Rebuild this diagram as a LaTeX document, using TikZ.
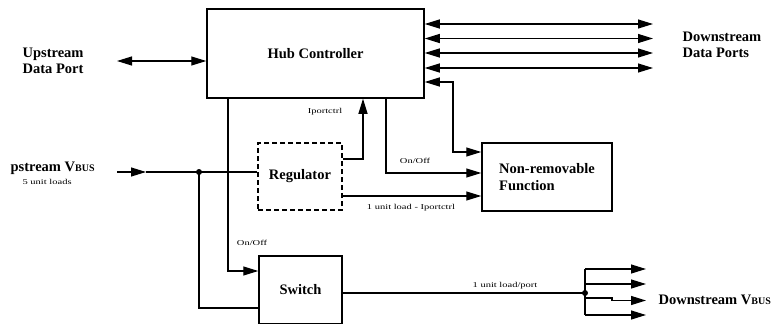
\documentclass[tikz,border=0pt]{standalone}
\usepackage{fontspec}
\setmainfont{Liberation Serif}
\newfontfamily\widefont{Liberation Serif}[FakeStretch=1.4]
\usetikzlibrary{arrows.meta}

\begin{document}
\begin{tikzpicture}[x=1pt, y=-1pt,
        >={Triangle[length=15pt,width=9pt]},
        line width=1.2pt,
        block/.style={draw, rectangle, line width=1.5pt, inner sep=0pt},
        biglabel/.style={font=\fontsize{14.5}{16.5}\selectfont\bfseries, align=left, inner sep=0pt},
        tinylabel/.style={font=\fontsize{7.5}{9}\selectfont\widefont, inner sep=0pt}]
    \useasboundingbox (0,0) rectangle (777,324);

    % blocks
    \node (hub) [block, minimum width=217pt, minimum height=89pt, font=\fontsize{14.5}{16.5}\selectfont\bfseries] at (315.5,53.5) {Hub Controller};
    \node (reg) [block, dashed, dash pattern=on 5pt off 3pt, minimum width=84pt, minimum height=67pt, font=\fontsize{14.5}{16.5}\selectfont\bfseries] at (300,176.5) {Regulator};
    \node (nrf) [block, minimum width=130pt, minimum height=68pt, align=left, font=\fontsize{14.5}{16.5}\selectfont\bfseries] at (547,177) {Non-removable\\Function};
    \node (sw) [block, minimum width=83pt, minimum height=68pt, font=\fontsize{14.5}{16.5}\selectfont\bfseries] at (300.5,290) {Switch\hspace{10pt}};

    % outside labels
    \node (upport) [biglabel, anchor=west] at (22,61) {Upstream\\Data Port};
    \node (dnport) [biglabel, anchor=west] at (682,45) {Downstream\\Data Ports};
    \node (upvbus) [biglabel, anchor=west] at (10,168) {pstream V{\fontsize{10}{10}\selectfont BUS}};
    \node (loads) [tinylabel, anchor=west] at (22,182) {5 unit loads};
    \node (dnvbus) [biglabel, anchor=west] at (658,300) {Downstream V{\fontsize{10}{10}\selectfont BUS}};

    % data ports
    \coordinate (upin) at (117,61);
    \draw[<->] (upin) -- (hub.west |- upin);
    \foreach \i/\y in {1/24,2/38.5,3/53,4/68}{
        \coordinate (dp\i) at (653,\y);
        \draw[<->] (hub.east |- dp\i) -- (dp\i);
    }
    \coordinate (tap) at (453,82);
    \draw[<->] (hub.east |- tap) -- (tap) |- ([yshift=25pt]nrf.west);

    % control lines
    \coordinate (oo1) at (386,0);
    \draw[->] (hub.south -| oo1) |- ([yshift=4pt]nrf.west);
    \node (oolbl1) [tinylabel] at (415,161) {On/Off};
    \coordinate (ip) at (363,0);
    \draw[->] ([yshift=17.5pt]reg.east) -| (hub.south -| ip);
    \node (iplbl) [tinylabel] at (325,112) {Iportctrl};
    \draw[->] ([yshift=-19.5pt]reg.east) -- ([yshift=-19.5pt]reg.east -| nrf.west);
    \node (ldlbl) [tinylabel] at (411,208) {1 unit load - Iportctrl};
    \coordinate (oo2) at (228,0);
    \draw[->] (hub.south -| oo2) |- ([yshift=19pt]sw.west);
    \node (oolbl2) [tinylabel] at (252,243) {On/Off};

    % upstream vbus
    \coordinate (vin) at (117,172);
    \coordinate (vmid) at (146,172);
    \coordinate (vdot) at (199,172);
    \draw[->] (vin) -- (vmid);
    \draw (vmid) -- (vin -| reg.west);
    \fill (vdot) circle (3pt);
    \draw (vdot) |- ([yshift=-18pt]sw.west);

    % downstream vbus
    \coordinate (odot) at (585,293);
    \draw ([yshift=-3pt]sw.east) -- (odot);
    \node (portlbl) [tinylabel] at (505,286) {1 unit load/port};
    \fill (odot) circle (3pt);
    \foreach \i/\y in {1/269,2/284,3/300.5,4/315}{
        \coordinate (vb\i) at (646,\y);
    }
    \draw (odot |- vb1) -- (odot |- vb4);
    \draw[->] (odot |- vb1) -- (vb1);
    \draw[->] (odot |- vb2) -- (vb2);
    \draw[->] ([yshift=-5pt]odot) -- ++(27,0) -- ++(0,2.5) -- (vb3);
    \draw[->] (odot |- vb4) -- (vb4);
\end{tikzpicture}
\end{document}
